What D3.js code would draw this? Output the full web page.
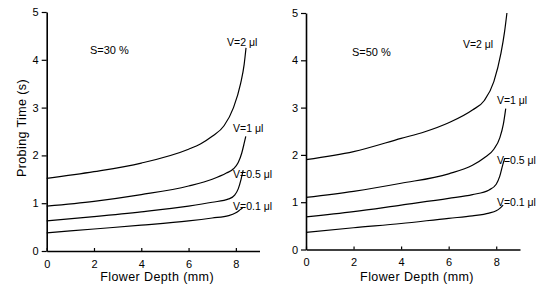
<!DOCTYPE html>
<html><head><meta charset="utf-8">
<script src="https://cdn.jsdelivr.net/npm/d3@7"></script>
<style>
body{margin:0;background:#fff;}
svg{display:block;font-family:"Liberation Sans",Arial,sans-serif;}
</style></head>
<body><svg id="c" width="543" height="289"></svg>
<script>
// Flower depth (mm) sample positions and probing times (s) for each volume V
const panels = ["S=30%", "S=50%"];
const seriesNames = ["V=2 μl", "V=1 μl", "V=0.5 μl", "V=0.1 μl"];

// S = 30 %
const s30_v2x  = [0, 2, 4, 6, 6.5, 7, 7.5, 7.9, 8.2, 8.35, 8.43];
const s30_v2y  = [1.52, 1.66, 1.84, 2.13, 2.24, 2.4, 2.62, 3.0, 3.5, 3.9, 4.25];
const s30_v1x  = [0, 2, 4, 6, 7, 7.6, 7.9, 8.1, 8.25, 8.35, 8.42];
const s30_v1y  = [0.94, 1.04, 1.18, 1.36, 1.5, 1.63, 1.72, 1.85, 2.05, 2.25, 2.4];
const s30_v05x = [0, 2, 4, 6, 7, 7.7, 7.95, 8.1, 8.22, 8.31];
const s30_v05y = [0.63, 0.72, 0.82, 0.94, 1.02, 1.09, 1.17, 1.3, 1.5, 1.69];
const s30_v01x = [0, 2, 4, 6, 7, 7.7, 8.0, 8.17, 8.3];
const s30_v01y = [0.38, 0.46, 0.54, 0.63, 0.69, 0.74, 0.8, 0.86, 0.91];

// S = 50 %
const s50_v2x  = [0, 2, 4, 5, 6, 7, 7.5, 7.9, 8.2, 8.35, 8.45];
const s50_v2y  = [1.9, 2.07, 2.35, 2.49, 2.68, 2.95, 3.15, 3.55, 4.15, 4.6, 5.0];
const s50_v1x  = [0, 2, 4, 6, 7, 7.5, 7.9, 8.15, 8.3, 8.4];
const s50_v1y  = [1.1, 1.23, 1.4, 1.6, 1.78, 1.94, 2.12, 2.36, 2.65, 2.98];
const s50_v05x = [0, 2, 4, 6, 7, 7.7, 8.0, 8.15, 8.28, 8.36];
const s50_v05y = [0.69, 0.8, 0.94, 1.08, 1.16, 1.26, 1.38, 1.55, 1.8, 1.93];
const s50_v01x = [0, 2, 4, 6, 7, 7.7, 8.0, 8.15, 8.29];
const s50_v01y = [0.36, 0.46, 0.55, 0.66, 0.71, 0.77, 0.82, 0.87, 0.94];

const xTicks = [0, 2, 4, 6, 8];
const yTicks = [0, 1, 2, 3, 4, 5];
const xTitle = "Flower Depth (mm)";
const yTitle = "Probing Time (s)";

// label anchors in data units [x(mm), y(s)]
const s30_labelX = [7.63, 7.88, 7.88, 7.88];
const s30_labelY = [4.29, 2.49, 1.53, 0.85];
const s50_labelX = [6.6, 8.03, 8.03, 8.03];
const s50_labelY = [4.27, 3.08, 1.81, 0.93];
const panelLabelX = [1.83, 1.93];
const panelLabelY = [4.12, 4.10];

const svg = d3.select("#c");

const layouts = [
  {x0: 46.7, x1: 259.5, y0: 251, y1: 12},
  {x0: 306, x1: 520, y0: 249.5, y1: 13}
];
const seriesData = [
  [[s30_v2x, s30_v2y], [s30_v1x, s30_v1y], [s30_v05x, s30_v05y], [s30_v01x, s30_v01y]],
  [[s50_v2x, s50_v2y], [s50_v1x, s50_v1y], [s50_v05x, s50_v05y], [s50_v01x, s50_v01y]]
];
const labelsX = [s30_labelX, s50_labelX];
const labelsY = [s30_labelY, s50_labelY];

panels.forEach((pname, p) => {
  const L = layouts[p];
  const x = d3.scaleLinear().domain([0, 9]).range([L.x0, L.x1]);
  const y = d3.scaleLinear().domain([0, 5]).range([L.y0, L.y1]);
  const g = svg.append("g");

  const xa = g.append("g").attr("transform", `translate(0,${L.y0})`)
    .call(d3.axisBottom(x).tickValues(xTicks).tickFormat(d3.format("d"))
      .tickSize(-3).tickPadding(9).tickSizeOuter(0));
  const ya = g.append("g").attr("transform", `translate(${L.x0},0)`)
    .call(d3.axisLeft(y).tickValues(yTicks).tickFormat(d3.format("d"))
      .tickSize(5).tickPadding(3).tickSizeOuter(0));
  [xa, ya].forEach(a => {
    a.select(".domain").attr("stroke", "#000").attr("stroke-width", 1.6);
    a.selectAll(".tick line").attr("stroke", "#000").attr("stroke-width", 1.2);
    a.selectAll(".tick text").attr("fill", "#000").attr("font-size", 11)
      .attr("font-family", "'Liberation Sans',Arial,sans-serif");
  });

  g.append("text").attr("x", (L.x0 + x(9)) / 2 + 4).attr("y", 281)
    .attr("text-anchor", "middle").attr("font-size", 12.5).attr("letter-spacing", 0.4)
    .text(xTitle);
  if (p === 0) {
    g.append("text").attr("transform", `translate(26,128) rotate(-90)`)
      .attr("text-anchor", "middle").attr("font-size", 12.5).attr("letter-spacing", 0.4)
      .text(yTitle);
  }

  const line = d3.line().x(d => x(d[0])).y(d => y(d[1])).curve(d3.curveMonotoneX);
  seriesData[p].forEach((s, i) => {
    const pts = s[0].map((v, k) => [v, s[1][k]]);
    g.append("path").attr("d", line(pts)).attr("fill", "none")
      .attr("stroke", "#000").attr("stroke-width", 1.2);
    g.append("text").attr("x", x(labelsX[p][i])).attr("y", y(labelsY[p][i]))
      .attr("font-size", 10.5).text(seriesNames[i]);
  });

  g.append("text").attr("x", x(panelLabelX[p])).attr("y", y(panelLabelY[p]))
    .attr("font-size", 11).text(pname.replace("%", " %"));
});
</script></body></html>
